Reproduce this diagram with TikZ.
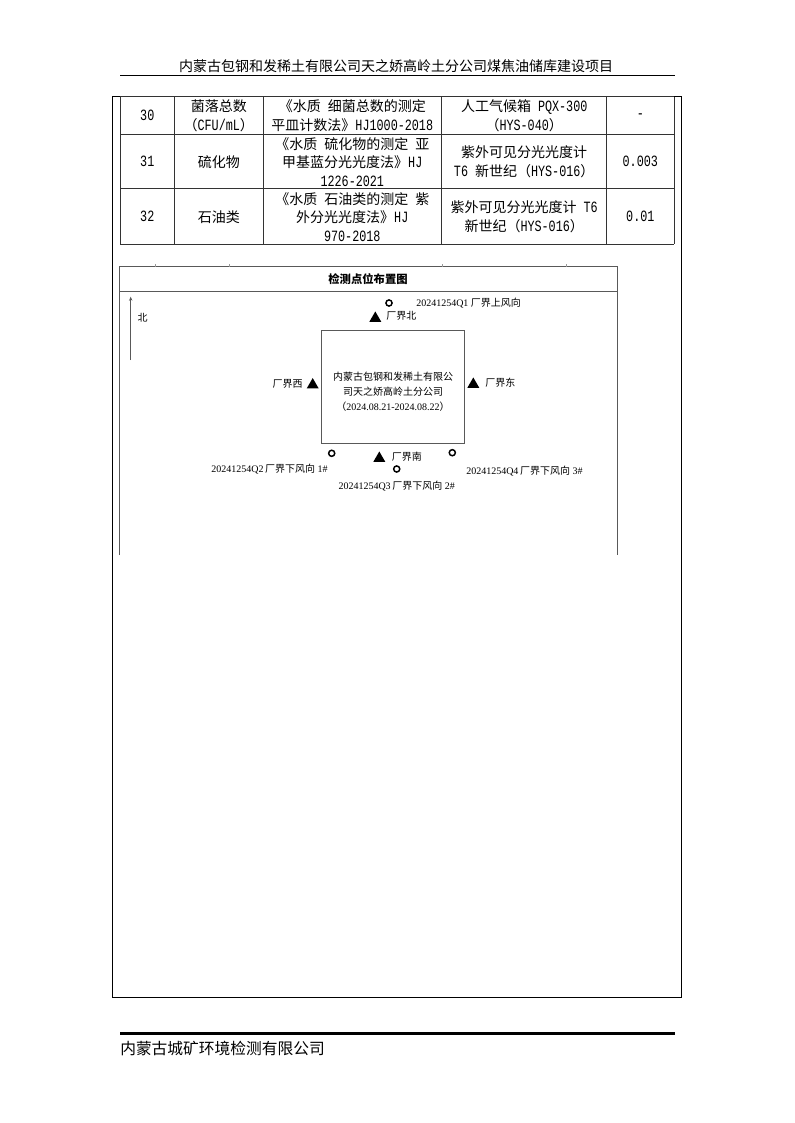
\documentclass[tikz,border=0pt]{standalone}
\usepackage{fontspec}
\setmainfont{Liberation Serif}
\newfontfamily\cjk{Noto Sans CJK SC}
\newfontfamily\tabmono[Scale=1.12, FakeStretch=0.75]{Liberation Mono}
\usetikzlibrary{shapes.geometric, arrows.meta, positioning}

\newcommand\zh[1]{{\cjk #1}}
\newcommand\hw[1]{{\tabmono #1}}
\newcommand\cellfont{\fontsize{10.5pt}{13.9pt}\selectfont\cjk\spaceskip=.5em\relax}

\tikzset{
  cell/.style={font=\cellfont, align=center, inner sep=0pt},
  maptext/.style={font=\fontsize{7.5pt}{11.25pt}\selectfont, inner sep=0pt},
  gridline/.style={line width=0.75pt, black!80},
  mapline/.style={line width=0.75pt, black!65},
  samp/.style={circle, draw, line width=1.1pt, minimum size=4.6pt, inner sep=0pt},
  bound/.style={regular polygon, regular polygon sides=3, fill, minimum size=10.4pt, inner sep=0pt},
}

\begin{document}
\begin{tikzpicture}[x=0.75pt, y=-0.75pt]
  \useasboundingbox (0,0) rectangle (794,1123);

  % Page header
  \node[font=\fontsize{10.5pt}{12pt}\selectfont\cjk, inner sep=0pt] (header) at (396,66) {内蒙古包钢和发稀土有限公司天之娇高岭土分公司煤焦油储库建设项目};
  \draw[line width=0.75pt] (120,76) -- (675,76);

  % Outer frame
  \draw[line width=0.9pt] (112.7,96.7) rectangle (681.5,997.3);

  % Table grid
  \foreach \x in {120,174.7,263,441.7,606.7,674}
    \draw[gridline] (\x,97) -- (\x,244);
  \foreach \y in {97,134.3,189,244}
    \draw[gridline] (120,\y) -- (674,\y);

  % Row 30
  \node[cell] (r30no) at (147.3,115.7) {\hw{30}};
  \node[cell] (r30item) at (218.8,115.7) {菌落总数\\（\hw{CFU/mL}）};
  \node[cell] (r30std) at (352.3,115.7) {《水质 细菌总数的测定\\平皿计数法》\hw{HJ1000-2018}};
  \node[cell] (r30dev) at (524.2,115.7) {人工气候箱 \hw{PQX-300}\\（\hw{HYS-040}）};
  \node[cell] (r30lim) at (640.3,115.7) {\hw{-}};

  % Row 31
  \node[cell] (r31no) at (147.3,161.7) {\hw{31}};
  \node[cell] (r31item) at (218.8,161.7) {硫化物};
  \node[cell] (r31std) at (352.3,161.7) {《水质 硫化物的测定 亚\\甲基蓝分光光度法》\hw{HJ}\\\hw{1226-2021}};
  \node[cell] (r31dev) at (524.2,161.7) {紫外可见分光光度计\\\hw{T6} 新世纪（\hw{HYS-016}）};
  \node[cell] (r31lim) at (640.3,161.7) {\hw{0.003}};

  % Row 32
  \node[cell] (r32no) at (147.3,216.7) {\hw{32}};
  \node[cell] (r32item) at (218.8,216.7) {石油类};
  \node[cell] (r32std) at (352.3,216.7) {《水质 石油类的测定 紫\\外分光光度法》\hw{HJ}\\\hw{970-2018}};
  \node[cell] (r32dev) at (524.2,216.7) {紫外可见分光光度计 \hw{T6}\\新世纪（\hw{HYS-016}）};
  \node[cell] (r32lim) at (640.3,216.7) {\hw{0.01}};

  % Layout frame
  \draw[mapline] (119.3,555) -- (119.3,266.7) -- (617.3,266.7) -- (617.3,555);
  \draw[mapline] (119.3,291.7) -- (617.3,291.7);
  \foreach \x in {155,229,442,566}
    \draw[black!40, line width=0.5pt] (\x,264) -- (\x,266.7);
  \node[font=\fontsize{8.5pt}{10pt}\selectfont\cjk\bfseries, inner sep=0pt] (maptitle) at (368,279.5) {检测点位布置图};

  % North arrow
  \coordinate (ntail) at (130.7,360);
  \coordinate (nhead) at (130.7,296.7);
  \draw[mapline, -{Stealth[length=3pt, width=2.5pt]}] (ntail) -- (nhead);
  \node[maptext] (north) at (142.7,317.7) {\zh{北}};

  % Plant area
  \node[draw, mapline, minimum width=107.5pt, minimum height=85.3pt, inner sep=0pt] (plant) at (392.7,387) {};
  \node[maptext, align=center] (plantname) at (393,392) {\zh{内蒙古包钢和发稀土有限公}\\\zh{司天之娇高岭土分公司}\\\zh{（}2024.08.21-2024.08.22\zh{）}};

  % Boundary points
  \node[bound] (bn) at (375.3,318.4) {};
  \node[bound] (bw) at (312.7,385) {};
  \node[bound] (be) at (473.3,384.4) {};
  \node[bound] (bs) at (379.3,458.4) {};
  \node[maptext, anchor=west] (bnlab) at (386,316) {\zh{厂界北}};
  \node[maptext, anchor=east] (bwlab) at (303,384) {\zh{厂界西}};
  \node[maptext, anchor=west] (belab) at (485,383) {\zh{厂界东}};
  \node[maptext, anchor=west] (bslab) at (391.5,457) {\zh{厂界南}};

  % Sampling points
  \node[samp] (q1) at (389,303) {};
  \node[samp] (q2) at (331.7,453.3) {};
  \node[samp] (q3) at (396.7,469) {};
  \node[samp] (q4) at (452.3,452.7) {};
  \node[maptext, anchor=west] (q1lab) at (416,303) {20241254Q1 \zh{厂界上风向}};
  \node[maptext, anchor=east] (q2lab) at (328,469.3) {20241254Q2\,\zh{厂界下风向} 1\#};
  \node[maptext] (q3lab) at (396.7,486) {20241254Q3\,\zh{厂界下风向} 2\#};
  \node[maptext, anchor=west] (q4lab) at (466,470.7) {20241254Q4\,\zh{厂界下风向} 3\#};

  % Page footer
  \draw[line width=2pt] (120,1033.3) -- (675,1033.3);
  \node[font=\fontsize{11.8pt}{14pt}\selectfont\cjk, anchor=west, inner sep=0pt] (footer) at (120,1048.3) {内蒙古城矿环境检测有限公司};
\end{tikzpicture}
\end{document}
